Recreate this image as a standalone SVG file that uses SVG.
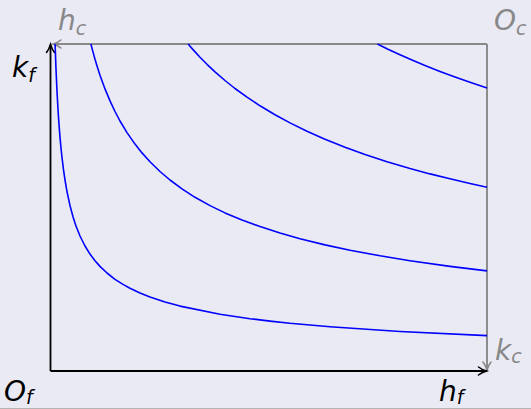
<svg xmlns="http://www.w3.org/2000/svg" width="531" height="409" viewBox="0 0 531 409">
<style>
.lbl{font-family:"DejaVu Sans","Liberation Sans",sans-serif;font-style:italic;font-size:28px}
.sub{font-size:19px}
.f{fill:#000}
.c{fill:#888}
.curve{fill:none;stroke:#0000ff;stroke-width:1.6;stroke-linejoin:round;stroke-linecap:butt}
.ax{fill:none;stroke:#000;stroke-width:1.8}
.gx{fill:none;stroke:#888;stroke-width:1.9}
</style>
<defs>
<marker id="ab" markerUnits="userSpaceOnUse" orient="auto" markerWidth="14" markerHeight="12" refX="0" refY="0" viewBox="-10 -6 12 12" overflow="visible">
<path d="M-8,-4 C-5,-1.6 -2,-0.6 0,0 C-2,0.6 -5,1.6 -8,4" fill="none" stroke="#000" stroke-width="1.6" stroke-linecap="round"/>
</marker>
<marker id="ag" markerUnits="userSpaceOnUse" orient="auto" markerWidth="14" markerHeight="12" refX="0" refY="0" viewBox="-10 -6 12 12" overflow="visible">
<path d="M-8,-4 C-5,-1.6 -2,-0.6 0,0 C-2,0.6 -5,1.6 -8,4" fill="none" stroke="#888" stroke-width="1.6" stroke-linecap="round"/>
</marker>
</defs>
<rect x="0" y="0" width="531" height="409" fill="#eaeaf4"/>
<line x1="0" y1="408.5" x2="531" y2="408.5" stroke="#b4b4b4" stroke-width="1"/>
<g id="connectors">
<line class="gx" x1="487" y1="44" x2="53" y2="44" marker-end="url(#ag)"/>
<line class="gx" x1="487" y1="44" x2="487" y2="370" marker-end="url(#ag)"/>
<line class="ax" x1="50.5" y1="371" x2="50.5" y2="44.5" marker-end="url(#ab)"/>
<line class="ax" x1="50.5" y1="371" x2="486.5" y2="371" marker-end="url(#ab)"/>
</g>
<g id="curves">
<polyline id="curve1" class="curve" points="55.1,44 56,69.1 57,91.5 58,109.5 59,124.5 60,137.1 61,148 62,157.5 63.5,169.7 65,180 67,191.6 70,205.6 73,216.8 75,223.1 76,226 80,236 85,246 90,254.1 95,260.7 100,266.4 107,273 115,279.3 123,284.4 130,288.3 140,293 150,297 165,302 180,306.1 220,314.3 250,318.7 270,321.1 290,323.3 330,326.8 400,331.5 487,335.6"/>
<polyline id="curve2" class="curve" points="90.9,44 92.5,50.1 95,59.2 97.5,67.5 100,75.2 105,88.9 110,100.9 115,111.5 120,121 127,132.6 135,144.1 142,152.9 150,161.8 160,171.5 170,180 182,188.9 195,197.3 210,205.6 225,212.9 242,220 260,226.6 280,233.1 300,238.7 325,244.9 350,250.2 380,255.8 410,260.7 450,266.4 487,270.9"/>
<polyline id="curve3" class="curve" points="188.1,44 193,49.6 200,57.2 207,64.3 215,71.8 225,80.5 235,88.5 247,97.2 260,105.8 275,114.8 290,122.9 307,131.3 325,139.3 345,147.2 365,154.5 387,161.7 410,168.5 430,173.9 450,178.8 470,183.5 487,187.2"/>
<polyline id="curve4" class="curve" points="377.4,44 388,49.2 400,54.7 412,60 425,65.5 440,71.4 455,77 470,82.3 487,88"/>
</g>
<g id="node-hc"><text class="lbl c" x="58" y="30">h<tspan class="sub" dy="5">c</tspan></text></g>
<g id="node-Oc"><text class="lbl c" x="494" y="30">O<tspan class="sub" dy="5">c</tspan></text></g>
<g id="node-kf"><text class="lbl f" x="12" y="77">k<tspan class="sub" dy="5">f</tspan></text></g>
<g id="node-kc"><text class="lbl c" x="495" y="360">k<tspan class="sub" dy="3">c</tspan></text></g>
<g id="node-Of"><text class="lbl f" x="4" y="401">O<tspan class="sub" dy="3">f</tspan></text></g>
<g id="node-hf"><text class="lbl f" x="439" y="401">h<tspan class="sub" dy="3">f</tspan></text></g>
</svg>
